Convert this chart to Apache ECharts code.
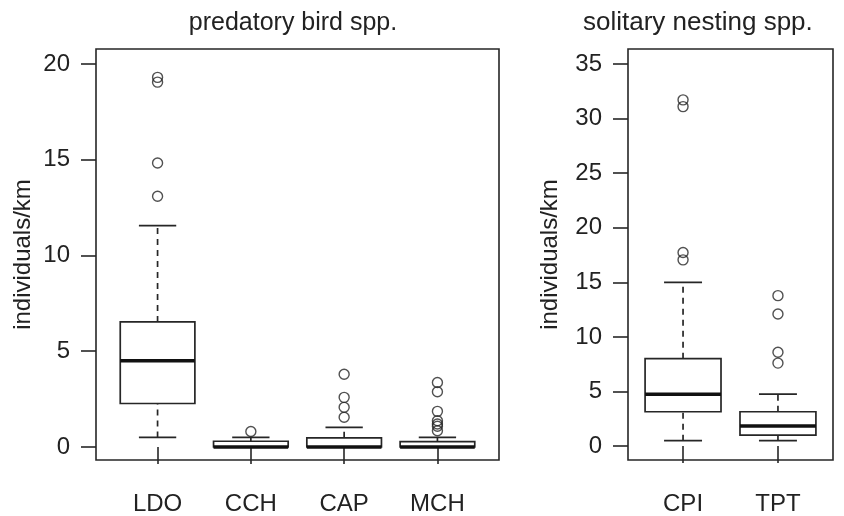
<!DOCTYPE html>
<html>
<head>
<meta charset="utf-8">
<script src="https://cdn.jsdelivr.net/npm/echarts@6/dist/echarts.min.js"></script>
<style>html,body{margin:0;padding:0;background:#fff}#c{width:844px;height:516px}</style>
</head>
<body>
<div id="c"></div>
<script>
// ---- data ----
const predTitle = 'predatory bird spp.';
const solTitle = 'solitary nesting spp.';
const yName = 'individuals/km';
const predCats = ['LDO', 'CCH', 'CAP', 'MCH'];
// [lower whisker, Q1, median, Q3, upper whisker]
const predStats = [
  [0.50, 2.27, 4.50, 6.53, 11.56],
  [0.00, 0.00, 0.00, 0.30, 0.50],
  [0.00, 0.00, 0.00, 0.48, 1.02],
  [0.00, 0.00, 0.00, 0.28, 0.50]
];
const predOutliers = [
  [19.30, 19.05, 14.83, 13.09],
  [0.81],
  [3.80, 2.59, 2.07, 1.55],
  [3.37, 2.88, 1.86, 1.37, 1.20, 1.08, 0.85]
];
const predTicks = [0, 5, 10, 15, 20];
const solCats = ['CPI', 'TPT'];
const solStats = [
  [0.49, 3.14, 4.75, 8.00, 15.00],
  [0.49, 1.00, 1.83, 3.14, 4.75]
];
const solOutliers = [
  [31.72, 31.10, 17.74, 17.06],
  [13.78, 12.10, 8.60, 7.60]
];
const solTicks = [0, 5, 10, 15, 20, 25, 30, 35];

// ---- helpers ----
const INK = '#262626';
const FONT = 'Liberation Sans, Arial, sans-serif';
function boxData(stats) { return stats.map((s, i) => [i + 1].concat(s)); }
function outData(outs) {
  const r = [];
  outs.forEach((arr, i) => arr.forEach(v => r.push([i + 1, v])));
  return r;
}
function renderBox(params, api) {
  const x = api.value(0);
  const lo = api.value(1), q1 = api.value(2), md = api.value(3), q3 = api.value(4), hi = api.value(5);
  const w = api.size([0.8, 0])[0];
  const cx = api.coord([x, 0])[0];
  const y = v => api.coord([x, v])[1];
  const ls = { stroke: INK, lineWidth: 1.7, fill: null };
  const dash = { stroke: INK, lineWidth: 1.7, lineDash: [6, 5] };
  return {
    type: 'group',
    children: [
      { type: 'line', shape: { x1: cx, y1: y(q3), x2: cx, y2: y(hi) }, style: dash },
      { type: 'line', shape: { x1: cx, y1: y(lo), x2: cx, y2: y(q1) }, style: dash },
      { type: 'line', shape: { x1: cx - w / 4, y1: y(hi), x2: cx + w / 4, y2: y(hi) }, style: ls },
      { type: 'line', shape: { x1: cx - w / 4, y1: y(lo), x2: cx + w / 4, y2: y(lo) }, style: ls },
      { type: 'rect', shape: { x: cx - w / 2, y: y(q3), width: w, height: y(q1) - y(q3) }, style: { stroke: INK, lineWidth: 1.7, fill: '#fff' } },
      { type: 'line', shape: { x1: cx - w / 2, y1: y(md), x2: cx + w / 2, y2: y(md) }, style: { stroke: '#111', lineWidth: 3.6 } }
    ]
  };
}
function xAxisFor(idx, cats) {
  const n = cats.length;
  const vals = cats.map((c, i) => i + 1);
  return {
    gridIndex: idx, type: 'value', min: 0.5 - 0.04 * n, max: n + 0.5 + 0.04 * n,
    axisLine: { show: false }, splitLine: { show: false },
    axisTick: { show: true, length: 17, customValues: vals, lineStyle: { color: INK, width: 1.6 } },
    axisLabel: { customValues: vals, formatter: v => cats[Math.round(v) - 1] || '', fontSize: 24, color: '#222', fontFamily: FONT, margin: 32 }
  };
}
function yAxisFor(idx, min, max, ticks, gap) {
  return {
    gridIndex: idx, type: 'value', min: min, max: max,
    name: yName, nameLocation: 'middle', nameGap: gap,
    nameTextStyle: { fontSize: 24, color: '#222', fontFamily: FONT },
    axisLine: { show: false }, splitLine: { show: false },
    axisTick: { show: true, length: 15, customValues: ticks, lineStyle: { color: INK, width: 1.6 } },
    axisLabel: { customValues: ticks, fontSize: 24, color: '#222', fontFamily: FONT, margin: 26 }
  };
}
const outStyle = { color: 'rgba(0,0,0,0)', borderColor: INK, borderWidth: 1.4 };

const chart = echarts.init(document.getElementById('c'), null, { renderer: 'canvas' });
chart.setOption({
  backgroundColor: '#fff',
  animation: false,
  title: [
    { text: predTitle, left: 288, top: 6, textAlign: 'center', textStyle: { fontSize: 25, fontWeight: 'normal', color: '#222', fontFamily: FONT } },
    { text: solTitle, left: 578, top: 5, textStyle: { fontSize: 26, fontWeight: 'normal', color: '#222', fontFamily: FONT } }
  ],
  grid: [
    { left: 96, top: 49, width: 403, height: 412, show: true, borderColor: INK, borderWidth: 1.6, backgroundColor: 'transparent' },
    { left: 628, top: 49, width: 205, height: 413, show: true, borderColor: INK, borderWidth: 1.6, backgroundColor: 'transparent' }
  ],
  xAxis: [xAxisFor(0, predCats), xAxisFor(1, solCats)],
  yAxis: [yAxisFor(0, -0.68, 20.78, predTicks, 61), yAxisFor(1, -1.28, 36.38, solTicks, 66)],
  series: [
    { type: 'custom', xAxisIndex: 0, yAxisIndex: 0, renderItem: renderBox, data: boxData(predStats), encode: { x: 0, y: [1, 2, 3, 4, 5] } },
    { type: 'scatter', xAxisIndex: 0, yAxisIndex: 0, data: outData(predOutliers), symbol: 'circle', symbolSize: 10, itemStyle: outStyle, z: 5 },
    { type: 'custom', xAxisIndex: 1, yAxisIndex: 1, renderItem: renderBox, data: boxData(solStats), encode: { x: 0, y: [1, 2, 3, 4, 5] } },
    { type: 'scatter', xAxisIndex: 1, yAxisIndex: 1, data: outData(solOutliers), symbol: 'circle', symbolSize: 10, itemStyle: outStyle, z: 5 }
  ]
});
</script>
</body>
</html>
